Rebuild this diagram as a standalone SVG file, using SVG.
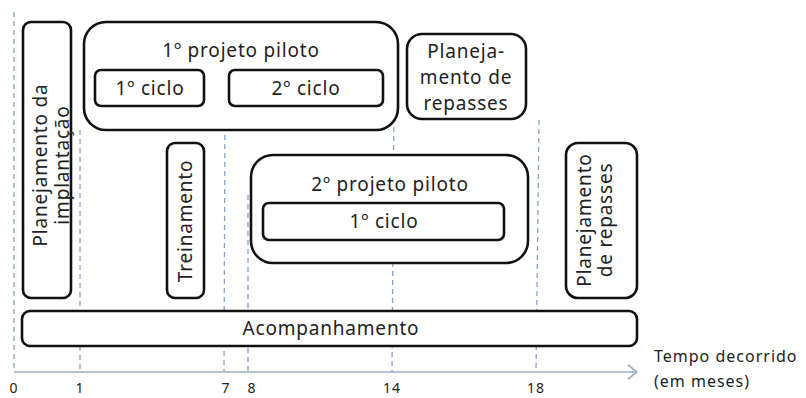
<svg xmlns="http://www.w3.org/2000/svg" width="806" height="398" viewBox="0 0 806 398">
<style>
.box{fill:#fff;stroke:#111;stroke-width:2.6}
.t{font-family:"Noto Sans","Liberation Sans",sans-serif;font-size:19px;fill:#222;letter-spacing:0.8px;text-anchor:middle}
.s{font-family:"Noto Sans","Liberation Sans",sans-serif;font-size:16px;fill:#222;letter-spacing:1px}
.n{font-family:"Noto Sans","Liberation Sans",sans-serif;font-size:14px;fill:#222;letter-spacing:1px;text-anchor:middle}
.dash{stroke:#8aa2c0;stroke-width:1.3;stroke-dasharray:5 4;fill:none}
.axis{stroke:#9ab0c8;stroke-width:1.6;fill:none}
</style>
<g id="connectors">
<line class="dash" x1="14" y1="12" x2="14" y2="372"/>
<line class="dash" x1="80" y1="130" x2="80" y2="372"/>
<line class="dash" x1="225" y1="108" x2="224" y2="372"/>
<line class="dash" x1="248" y1="195" x2="248" y2="372"/>
<line class="dash" x1="394" y1="100" x2="392" y2="372"/>
<line class="dash" x1="539" y1="120" x2="536" y2="372"/>
<line class="axis" x1="14" y1="372" x2="636" y2="372"/>
<polyline class="axis" points="628,365 637,372 628,379"/>
</g>
<g id="planejamento-implantacao">
<rect class="box" x="23" y="22" width="48" height="276" rx="8"/>
<text class="t" transform="rotate(-90 47 165)" x="47" y="165">Planejamento da</text>
<text class="t" transform="rotate(-90 47 165)" x="47" y="187">implantação</text>
</g>
<g id="projeto1">
<rect class="box" x="84" y="22" width="314" height="108" rx="22"/>
<text class="t" x="241" y="57">1º projeto piloto</text>
</g>
<g id="ciclo1">
<rect class="box" x="95" y="70" width="109" height="36" rx="6"/>
<text class="t" x="150" y="95">1º ciclo</text>
</g>
<g id="ciclo2">
<rect class="box" x="229" y="70" width="154" height="36" rx="6"/>
<text class="t" x="306" y="95">2º ciclo</text>
</g>
<g id="repasses1">
<rect class="box" x="407" y="34" width="119" height="85" rx="15"/>
<text class="t" x="466" y="58">Planeja-</text>
<text class="t" x="466" y="84">mento de</text>
<text class="t" x="466" y="110">repasses</text>
</g>
<g id="treinamento">
<rect class="box" x="167" y="143" width="37" height="155" rx="8"/>
<text class="t" transform="rotate(-90 186 221)" x="186" y="227" letter-spacing="1.6">Treinamento</text>
</g>
<g id="projeto2">
<rect class="box" x="251" y="155" width="277" height="108" rx="22"/>
<text class="t" x="390" y="191">2º projeto piloto</text>
</g>
<g id="ciclo3">
<rect class="box" x="263" y="203" width="241" height="37" rx="6"/>
<text class="t" x="384" y="228">1º ciclo</text>
</g>
<g id="repasses2">
<rect class="box" x="566" y="143" width="71" height="155" rx="12"/>
<text class="t" transform="rotate(-90 601 220)" x="601" y="210">Planejamento</text>
<text class="t" transform="rotate(-90 601 220)" x="601" y="231">de repasses</text>
</g>
<g id="acompanhamento">
<rect class="box" x="22" y="311" width="615" height="35" rx="8"/>
<text class="t" x="331" y="335">Acompanhamento</text>
</g>
<g id="axis-labels">
<text class="n" x="14" y="393">0</text>
<text class="n" x="80" y="393">1</text>
<text class="n" x="226" y="393">7</text>
<text class="n" x="252" y="393">8</text>
<text class="n" x="392" y="393">14</text>
<text class="n" x="536" y="393">18</text>
<text class="s" x="654" y="362">Tempo decorrido</text>
<text class="s" x="654" y="387">(em meses)</text>
</g>
</svg>
